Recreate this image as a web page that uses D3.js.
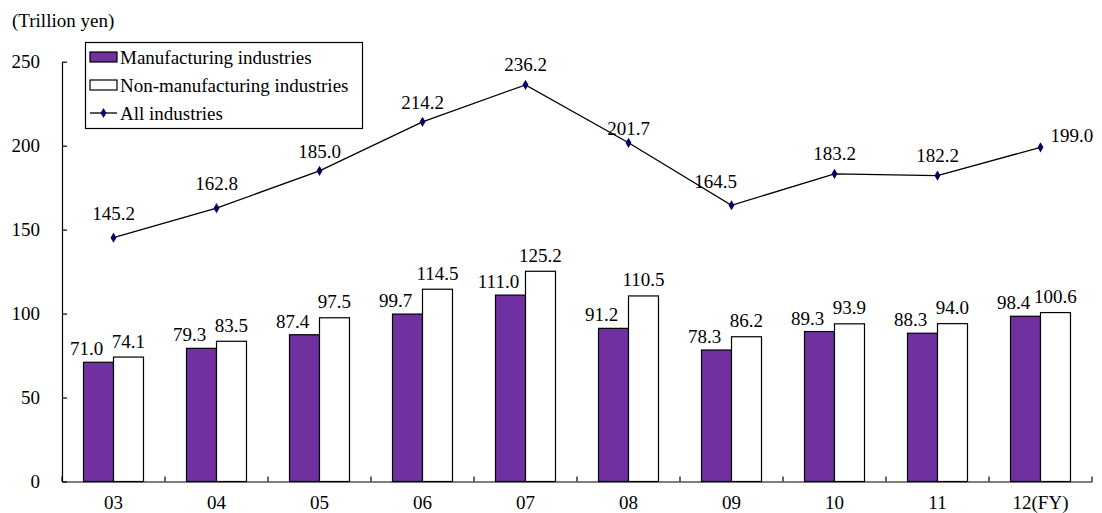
<!DOCTYPE html>
<html>
<head>
<meta charset="utf-8">
<script src="https://cdn.jsdelivr.net/npm/d3@7"></script>
<style>
  html, body { margin: 0; padding: 0; background: #fff; }
</style>
</head>
<body>
<svg id="chart" width="1102" height="513"></svg>
<script>
// ---- data ----
const categories = ["03", "04", "05", "06", "07", "08", "09", "10", "11", "12(FY)"];
const manufacturing = [71.0, 79.3, 87.4, 99.7, 111.0, 91.2, 78.3, 89.3, 88.3, 98.4];
const nonManufacturing = [74.1, 83.5, 97.5, 114.5, 125.2, 110.5, 86.2, 93.9, 94.0, 100.6];
const allIndustries = [145.2, 162.8, 185.0, 214.2, 236.2, 201.7, 164.5, 183.2, 182.2, 199.0];
const yTicks = [0, 50, 100, 150, 200, 250];
const seriesNames = ["Manufacturing industries", "Non-manufacturing industries", "All industries"];
const unitLabel = "(Trillion yen)";

// ---- layout / style ----
const FONT = 19;
const FAMILY = "Liberation Serif";
const PURPLE = "#7030A0";
const MARKER = "#000066";
const plot = { left: 62, right: 1092, top: 61.7, bottom: 481.5 };
// label nudges for the line labels [dx, dy(baseline offset from point)]
const lineLabelNudge = [[0,-18],[0,-18],[0,-13],[0,-13],[0,-14],[0,-8],[-16,-17],[0,-14],[0,-14],[null,null]];

const svg = d3.select("#chart");
const txt = (sel) => sel.attr("font-family", FAMILY).attr("font-size", FONT).attr("fill", "#000");

const x = d3.scaleBand().domain(categories).range([plot.left, plot.right]).paddingInner(0).paddingOuter(0);
const keys = ["m", "n"];
const xs = d3.scaleBand().domain(keys).range([0, x.bandwidth()]).paddingInner(0).paddingOuter(0.717);
const y = d3.scaleLinear().domain([0, 250]).range([plot.bottom, plot.top]);

const rows = categories.map((c, i) => ({ c, m: manufacturing[i], n: nonManufacturing[i], a: allIndustries[i], i }));

// unit label
svg.append("text").attr("x", 12).attr("y", 27).call(txt).text(unitLabel);

// y axis
const yAxis = svg.append("g").attr("transform", `translate(${plot.left},0)`)
  .call(d3.axisLeft(y).tickValues(yTicks).tickSizeInner(-5).tickSizeOuter(0).tickPadding(22).tickFormat(d3.format("d")));
yAxis.attr("font-family", FAMILY).attr("font-size", FONT);
yAxis.select(".domain").attr("stroke", "#000").attr("stroke-width", 1.2);
yAxis.selectAll(".tick line").attr("stroke", "#000").attr("stroke-width", 1.2);
yAxis.selectAll("text").call(txt);

// bars
const g = svg.append("g");
rows.forEach(r => {
  g.append("rect")
    .attr("x", x(r.c) + xs("m")).attr("width", xs.bandwidth())
    .attr("y", y(r.m)).attr("height", y(0) - y(r.m))
    .attr("fill", PURPLE).attr("stroke", "#000").attr("stroke-width", 1.2);
  g.append("rect")
    .attr("x", x(r.c) + xs("n")).attr("width", xs.bandwidth())
    .attr("y", y(r.n)).attr("height", y(0) - y(r.n))
    .attr("fill", "#fff").attr("stroke", "#000").attr("stroke-width", 1.2);
  g.append("text")
    .attr("x", x(r.c) + xs("m") + xs.bandwidth() / 2 - 12)
    .attr("y", y(r.m) - 7)
    .attr("text-anchor", "middle").call(txt)
    .text(d3.format(".1f")(r.m));
  g.append("text")
    .attr("x", x(r.c) + xs("n") + xs.bandwidth() / 2)
    .attr("y", y(r.n) - 9.5)
    .attr("text-anchor", "middle").call(txt)
    .text(d3.format(".1f")(r.n));
});

// x axis
const xAxis = svg.append("g").attr("transform", `translate(0,${plot.bottom})`)
  .call(d3.axisBottom(x).tickSize(0).tickPadding(14));
xAxis.attr("font-family", FAMILY).attr("font-size", FONT);
xAxis.select(".domain").attr("stroke", "#000").attr("stroke-width", 1.2);
xAxis.selectAll("text").call(txt);
const bounds = categories.map(c => x(c)).concat([x(categories[categories.length - 1]) + x.bandwidth()]);
xAxis.selectAll(".bt").data(bounds).enter().append("line")
  .attr("x1", d => d).attr("x2", d => d).attr("y1", 0).attr("y2", -5)
  .attr("stroke", "#000").attr("stroke-width", 1.2);

// line
const cx = c => x(c) + x.bandwidth() / 2;
const line = d3.line().x(d => cx(d.c)).y(d => y(d.a));
svg.append("path").datum(rows).attr("d", line)
  .attr("fill", "none").attr("stroke", "#000").attr("stroke-width", 1.3);
const diamond = d3.symbol().type(d3.symbolDiamond).size(30);
svg.selectAll(".mk").data(rows).enter().append("path")
  .attr("d", diamond).attr("transform", d => `translate(${cx(d.c)},${y(d.a)})`)
  .attr("fill", MARKER);
rows.forEach(r => {
  const nudge = lineLabelNudge[r.i];
  const t = svg.append("text").call(txt).text(d3.format(".1f")(r.a));
  if (nudge[0] === null) {
    t.attr("x", cx(r.c) + 10).attr("y", y(r.a) - 5).attr("text-anchor", "start");
  } else {
    t.attr("x", cx(r.c) + nudge[0]).attr("y", y(r.a) + nudge[1]).attr("text-anchor", "middle");
  }
});

// legend
const lg = svg.append("g");
lg.append("rect").attr("x", 85.5).attr("y", 42.5).attr("width", 277).attr("height", 86)
  .attr("fill", "#fff").attr("stroke", "#000").attr("stroke-width", 1.2);
const rowY = [57, 85, 113];
lg.append("rect").attr("x", 90).attr("y", rowY[0] - 5).attr("width", 27).attr("height", 10)
  .attr("fill", PURPLE).attr("stroke", "#000").attr("stroke-width", 1.2);
lg.append("rect").attr("x", 90).attr("y", rowY[1] - 5).attr("width", 27).attr("height", 10)
  .attr("fill", "#fff").attr("stroke", "#000").attr("stroke-width", 1.2);
lg.append("line").attr("x1", 90).attr("x2", 117).attr("y1", rowY[2]).attr("y2", rowY[2])
  .attr("stroke", "#000").attr("stroke-width", 1.3);
lg.append("path").attr("d", diamond).attr("transform", `translate(103.5,${rowY[2]})`).attr("fill", MARKER);
seriesNames.forEach((s, i) => {
  lg.append("text").attr("x", 120).attr("y", rowY[i] + 6.5).call(txt).text(s);
});
</script>
</body>
</html>
